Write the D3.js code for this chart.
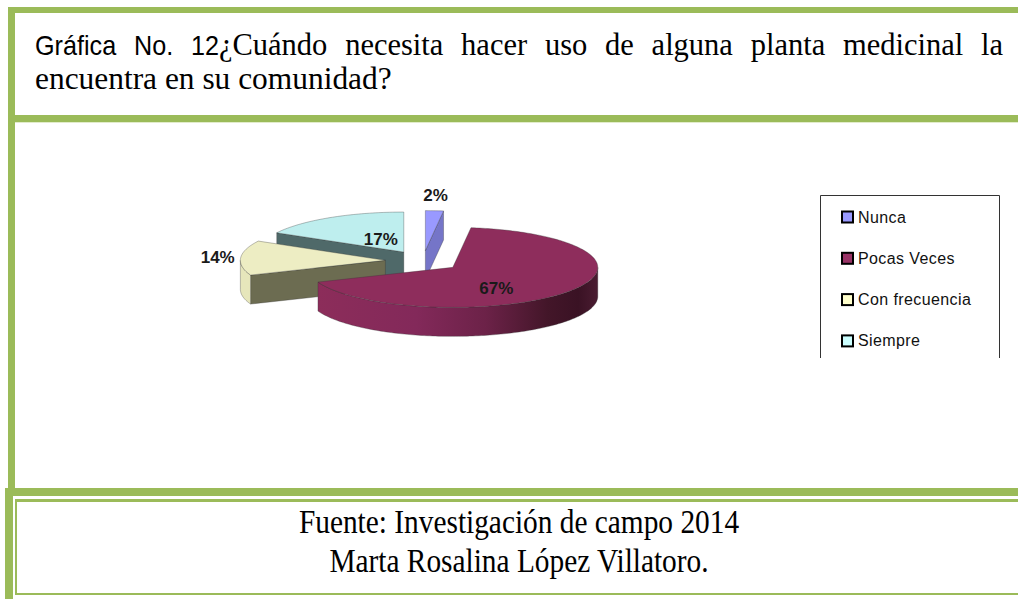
<!DOCTYPE html>
<html><head><meta charset="utf-8">
<script src="https://cdn.jsdelivr.net/npm/d3@7"></script>
<style>html,body{margin:0;padding:0;background:#fff;}svg{display:block;}</style>
</head><body>
<svg id="c" width="1018" height="599"></svg>
<script>
// ---- data ----
const categories = ["Nunca", "Pocas Veces", "Con frecuencia", "Siempre"];
const values = [2, 67, 14, 17];
const valueLabels = ["2%", "67%", "14%", "17%"];
const topColors = ["#9999FF", "#8E2D5C", "#EDEDC3", "#BEEEEE"];
const cutColors = ["#7575C8", "#7A2650", "#6C6C51", "#4F6969"];
const legendColors = ["#9999FF", "#993366", "#FFFFCC", "#CCFFFF"];
const titleLine1 = [
  {t: "Gráfica", f: "sans", sp: false}, {t: "No.", f: "sans", sp: true}, {t: "12", f: "sans", sp: true},
  {t: "¿Cuándo", f: "serif", sp: false}, {t: "necesita", f: "serif", sp: true}, {t: "hacer", f: "serif", sp: true},
  {t: "uso", f: "serif", sp: true}, {t: "de", f: "serif", sp: true}, {t: "alguna", f: "serif", sp: true},
  {t: "planta", f: "serif", sp: true}, {t: "medicinal", f: "serif", sp: true}, {t: "la", f: "serif", sp: true}
];
const titleLine2 = "encuentra en su comunidad?";
const sourceLines = ["Fuente: Investigación de campo 2014", "Marta Rosalina López Villatoro."];

const svg = d3.select("#c");
const GREEN = "#9BBB59";
const SERIF = "'Liberation Serif','Times New Roman',serif";
const SANS = "'Liberation Sans',Arial,sans-serif";

// ---- frame ----
const frame = svg.append("g");
function rect(x, y, w, h, c) { frame.append("rect").attr("x", x).attr("y", y).attr("width", w).attr("height", h).attr("fill", c); }
rect(8, 7, 1010, 6, GREEN);
rect(8, 7, 7, 481, GREEN);
rect(8, 115, 1010, 7, GREEN);
rect(15, 122, 1003, 1, "#E2ECCB");
rect(5, 488, 1013, 8, GREEN);
rect(5, 488, 8, 111, GREEN);
rect(15, 499, 1003, 3, GREEN);
rect(15, 499, 2, 96, GREEN);
rect(15, 593, 1003, 2, GREEN);

// ---- title ----
const tg = svg.append("g");
const fontOf = f => f === "sans" ? SANS : SERIF;
const sizeOf = f => f === "sans" ? 28 : 30.5;
const sxOf = f => f === "sans" ? 0.9 : 1.0;
function condensed(parent, x, y, txt, family, size, sx, anchor) {
  const t = parent.append("text").attr("x", 0).attr("y", 0)
    .attr("font-family", family).attr("font-size", size).attr("fill", "#000").text(txt);
  if (anchor) t.attr("text-anchor", anchor);
  t.attr("transform", `translate(${x},${y}) scale(${sx},1)`);
  return t;
}
const nodes = titleLine1.map(d => condensed(tg, 0, 55, d.t, fontOf(d.f), sizeOf(d.f), sxOf(d.f)));
const widths = nodes.map((n, i) => n.node().getComputedTextLength() * sxOf(titleLine1[i].f));
const x0 = 35, x1 = 1003;
const gaps = titleLine1.filter(d => d.sp).length;
const extra = (x1 - x0 - d3.sum(widths)) / gaps;
let cx0 = x0;
titleLine1.forEach((d, i) => {
  if (d.sp) cx0 += extra;
  nodes[i].attr("transform", `translate(${cx0},55) scale(${sxOf(d.f)},1)`);
  cx0 += widths[i];
});
condensed(tg, 35, 89, titleLine2, SERIF, 30.5, 1.03);

// ---- source ----
sourceLines.forEach((s, i) => condensed(svg, 519, 533 + i * 39, s, SERIF, 33, 0.89, "middle"));

// ---- 3D pie ----
const CX = 423, CY = 261, RX = 145, RY = 40, DEPTH = 29, EXPLODE = 0.26;
function proj(u, w, z) { return [CX + RX * u, CY - RY * w + DEPTH * z]; }
const arcs = d3.pie().sort(null).startAngle(0).endAngle(2 * Math.PI)(values);
const slices = arcs.map((a, i) => {
  const mid = (a.startAngle + a.endAngle) / 2;
  return {i, a0: a.startAngle, a1: a.endAngle, mid, ou: EXPLODE * Math.sin(mid), ow: EXPLODE * Math.cos(mid)};
});
const pt = (s, ang, r, z) => proj(s.ou + r * Math.sin(ang), s.ow + r * Math.cos(ang), z);
function arcPts(s, a0, a1, z) {
  const n = Math.max(2, Math.ceil((a1 - a0) / 0.02));
  return d3.range(n + 1).map(k => pt(s, a0 + (a1 - a0) * k / n, 1, z));
}
const line = d3.line();
const defs = svg.append("defs");
const grad = defs.append("linearGradient").attr("id", "wall1").attr("gradientUnits", "userSpaceOnUse");
const pg = svg.append("g");
const STROKE = "#333", SW = 0.6, SO = 0.55;
const order = slices.slice().sort((p, q) => q.ow - p.ow);
order.forEach(s => {
  const g = pg.append("g");
  if (Math.sin(s.a0) < -0.01) {
    const poly = [pt(s, 0, 0, 0), pt(s, s.a0, 1, 0), pt(s, s.a0, 1, 1), pt(s, 0, 0, 1)];
    g.append("path").attr("d", line(poly) + "Z").attr("fill", cutColors[s.i]).attr("stroke", STROKE).attr("stroke-width", SW).attr("stroke-opacity", SO);
  }
  if (Math.sin(s.a1) > 0.01) {
    const poly = [pt(s, 0, 0, 0), pt(s, s.a1, 1, 0), pt(s, s.a1, 1, 1), pt(s, 0, 0, 1)];
    g.append("path").attr("d", line(poly) + "Z").attr("fill", cutColors[s.i]).attr("stroke", STROKE).attr("stroke-width", SW).attr("stroke-opacity", SO);
  }
  const w0 = Math.max(s.a0, Math.PI / 2), w1 = Math.min(s.a1, 1.5 * Math.PI);
  if (w1 > w0) {
    const top = arcPts(s, w0, w1, 0), bot = arcPts(s, w0, w1, 1).reverse();
    const poly = top.concat(bot);
    let fill = topColors[s.i];
    if (s.i === 1) {
      const xs = poly.map(p => p[0]);
      grad.attr("x1", d3.min(xs)).attr("x2", d3.max(xs)).attr("y1", 0).attr("y2", 0);
      [[0, "#8C2D5A"], [0.35, "#83295A"], [0.6, "#6C2248"], [0.82, "#431629"], [0.93, "#3A1224"], [1, "#4A1C31"]]
        .forEach(([o, c]) => grad.append("stop").attr("offset", o).attr("stop-color", c));
      fill = "url(#wall1)";
    } else if (s.i === 2) fill = "#E6E6BB";
    g.append("path").attr("d", line(poly) + "Z").attr("fill", fill).attr("stroke", STROKE).attr("stroke-width", SW).attr("stroke-opacity", SO);
  }
  const topPoly = [pt(s, 0, 0, 0)].concat(arcPts(s, s.a0, s.a1, 0));
  g.append("path").attr("d", line(topPoly) + "Z").attr("fill", topColors[s.i]).attr("stroke", STROKE).attr("stroke-width", SW).attr("stroke-opacity", SO);
});

// labels
const lg = svg.append("g").attr("font-family", SANS).attr("font-weight", "bold").attr("font-size", 17).attr("fill", "#1A1A1A");
slices.forEach(s => {
  const t = lg.append("text").attr("text-anchor", "middle").text(valueLabels[s.i]);
  const bw = t.node().getComputedTextLength(), bh = 13;
  let x, y;
  if (values[s.i] < 15) {
    const p = pt(s, s.mid, 1, 0);
    x = p[0] + Math.sin(s.mid) * (bw / 2 + 6);
    y = p[1] - Math.cos(s.mid) * (bh / 2 + 10);
  } else {
    const p = pt(s, s.mid, 0.38, Math.max(0, -Math.cos(s.mid)) * 0.6);
    x = p[0] + (Math.cos(s.mid) > 0 ? 5 : 0); y = p[1];
  }
  t.attr("x", x).attr("y", y + bh / 2);
});

// legend
const leg = svg.append("g");
leg.append("path").attr("d", "M820.5,358V195.5H999.5V358").attr("fill", "none").attr("stroke", "#333").attr("stroke-width", 1);
categories.forEach((c, i) => {
  const y = 217 + i * 41.3;
  leg.append("rect").attr("x", 842).attr("y", y - 5.5).attr("width", 11).attr("height", 11)
    .attr("fill", legendColors[i]).attr("stroke", "#000").attr("stroke-width", 2);
  leg.append("text").attr("x", 858).attr("y", y + 5.5).attr("font-family", SANS).attr("font-size", 16)
    .attr("letter-spacing", 0.4).attr("fill", "#111").text(c);
});
</script>
</body></html>
